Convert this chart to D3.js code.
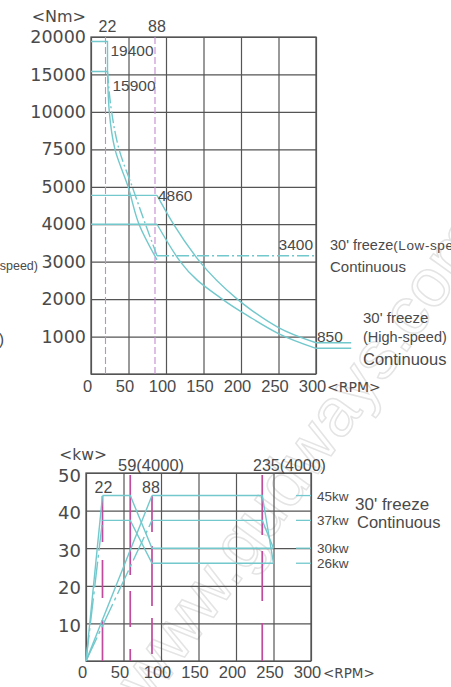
<!DOCTYPE html>
<html>
<head>
<meta charset="utf-8">
<script src="https://cdn.jsdelivr.net/npm/d3@7"></script>
<style>
  body { margin: 0; background: #fff; }
  svg { display: block; }
</style>
</head>
<body>
<svg id="chart" width="451" height="687"></svg>
<script>
// ---- data ----
const rpmTicks = [0, 50, 100, 150, 200, 250, 300];
const torqueTicks = [0, 1000, 2000, 3000, 4000, 5000, 7500, 10000, 15000, 20000];
const powerTicks = [0, 10, 20, 30, 40, 50];

// torque chart (Nm vs rpm)
const lowBox = [[0, 19400], [22, 19400], [22, 15400], [0, 15400]];
const lowPeak = [[22, 15400], [24.4, 10000], [32, 7500], [49.5, 5000], [64, 4000], [88, 3050]];
const lowCont = [[22, 15400], [27.5, 10000], [37.4, 7500], [55, 5000], [72.6, 4000], [88, 3160]];
const lowContFlat = [[88, 3160], [300, 3160]];
const highPeakFlat = [[0, 4770], [88, 4770]];
const highContFlat = [[0, 4000], [88, 4000]];
const highPeak = [[88, 4770], [110, 4000], [145, 3000], [195, 2000], [213, 1720], [250, 1240], [300, 835]];
const highCont = [[88, 4000], [119, 3000], [175, 2000], [213, 1507], [250, 1080], [300, 686]];
const highTails = [[[300, 835], [347, 835]], [[300, 686], [347, 686]]];
const torqueSpeeds = [22, 88];

// power chart (kW vs rpm)
const pLowPeak = [[22, 44], [59, 44], [88, 30], [250, 30]];
const pLowCont = [[22, 37.4], [59, 37.4], [88, 26], [250, 26]];
const pHighPeak = [[88, 44], [235, 44], [250, 26]];
const pHighCont = [[88, 37.4], [235, 37.4], [250, 30]];
const pRisePeak = [[[0, 0], [22, 44]], [[0, 0], [88, 44]]];
const pRiseCont = [[[0, 0], [22, 37.4]], [[0, 0], [88, 37.4]]];
const powerSpeeds = [22, 59, 88, 235];
const powerLevels = [44, 37.4, 30, 26];
const powerLevelLabels = ["45kw", "37kw", "30kw", "26kw"];

// ---- style ----
const cyan = "#72c8cc";
const gridCol = "#555";
const textCol = "#4a4a4a";
const numFont = "Liberation Sans, Arial, sans-serif";
const tickFont = "DejaVu Sans, sans-serif";

const svg = d3.select("#chart");

// faint watermark
svg.append("text")
  .attr("transform", "translate(150,705) rotate(-54)")
  .attr("font-family", numFont)
  .attr("font-size", 68)
  .attr("fill", "none")
  .attr("stroke", "#e4e4e4")
  .attr("stroke-width", 1.5)
  .text("www.gudways.com");

// =============== torque chart ===============
const x1 = d3.scaleLinear().domain([0, 300]).range([91, 316]);
const t1 = 37, b1 = 374;
const y1 = d3.scaleLinear()
  .domain(torqueTicks)
  .range(torqueTicks.map((d, i) => b1 - i * (b1 - t1) / (torqueTicks.length - 1)));

const g1 = svg.append("g");

// grid via axes
const yAx1 = g1.append("g").attr("transform", `translate(${x1(0)},0)`)
  .call(d3.axisLeft(y1).tickValues(torqueTicks).tickSize(-(x1(300) - x1(0))).tickPadding(5)
    .tickFormat(d => d === 0 ? "" : d));
const xAx1 = g1.append("g").attr("transform", `translate(0,${b1})`)
  .call(d3.axisBottom(x1).tickValues(rpmTicks).tickSize(-(b1 - t1)).tickPadding(6));

[yAx1, xAx1].forEach(a => {
  a.select(".domain").remove();
  a.selectAll(".tick line").attr("stroke", gridCol).attr("stroke-width", 1.2);
});
yAx1.selectAll("text").attr("font-family", tickFont).attr("font-size", 17.5).attr("fill", textCol);
xAx1.selectAll("text").attr("font-family", numFont).attr("font-size", 16.5).attr("fill", textCol).attr("dx", -4);

g1.append("rect")
  .attr("x", x1(0)).attr("y", t1)
  .attr("width", x1(300) - x1(0)).attr("height", b1 - t1)
  .attr("fill", "none").attr("stroke", gridCol).attr("stroke-width", 1.3);

// speed markers
g1.selectAll(".spd").data(torqueSpeeds).enter().append("line")
  .attr("x1", d => x1(d) - 2).attr("x2", d => x1(d) - 2)
  .attr("y1", t1).attr("y2", b1)
  .attr("stroke", "#c58ad0").attr("stroke-width", 1.1).attr("stroke-dasharray", "7,3");
g1.selectAll(".spdl").data(torqueSpeeds).enter().append("text")
  .attr("x", d => x1(d)).attr("y", 32)
  .attr("text-anchor", "middle")
  .attr("font-family", numFont).attr("font-size", 16).attr("fill", textCol)
  .text(d => d);

const straight1 = d3.line().x(d => x1(d[0])).y(d => y1(d[1]));
const smooth1 = d3.line().x(d => x1(d[0])).y(d => y1(d[1])).curve(d3.curveMonotoneY);
const smoothX1 = d3.line().x(d => x1(d[0])).y(d => y1(d[1])).curve(d3.curveMonotoneX);

function cyanPath(g, d, gen, dash) {
  g.append("path").attr("d", gen(d))
    .attr("fill", "none").attr("stroke", cyan).attr("stroke-width", 1.4)
    .attr("stroke-dasharray", dash || null);
}

cyanPath(g1, lowBox, straight1);
cyanPath(g1, lowPeak, smooth1);
cyanPath(g1, lowCont, smooth1, "12,3,2,3");
cyanPath(g1, lowContFlat, straight1, "12,3,2,3");
cyanPath(g1, highPeakFlat, straight1);
cyanPath(g1, highContFlat, straight1);
cyanPath(g1, highPeak, smoothX1);
cyanPath(g1, highCont, smoothX1);
highTails.forEach(t => cyanPath(g1, t, straight1));

// value notes
const note = (g, txt, x, y, anchor, size) => g.append("text")
  .attr("x", x).attr("y", y).attr("text-anchor", anchor || "start")
  .attr("font-family", numFont).attr("font-size", size || 15.5).attr("fill", textCol)
  .text(txt);

note(g1, "19400", x1(22) + 3, y1(19400) + 15);
note(g1, "15900", x1(22) + 5, y1(15400) + 20);
note(g1, "4860", x1(88) + 1, y1(4770) + 6);
note(g1, "3400", x1(300) - 3, y1(3160) - 6, "end");
note(g1, "850", x1(300) + 1, y1(835) - 1);

// axis unit labels
g1.append("text").attr("x", 86).attr("y", 22).attr("text-anchor", "end")
  .attr("font-family", tickFont).attr("font-size", 16).attr("fill", textCol).text("<Nm>");
g1.append("text").attr("x", x1(300) + 11).attr("y", 392)
  .attr("font-family", tickFont).attr("font-size", 14).attr("fill", textCol).text("<RPM>");

// legends
const lowLbl = g1.append("text").attr("x", 330).attr("y", 250)
  .attr("font-family", numFont).attr("font-size", 14.5).attr("fill", textCol);
lowLbl.append("tspan").text("30' freeze");
lowLbl.append("tspan").attr("font-size", 13.5).attr("letter-spacing", 0.6).text("(Low-speed)");
note(g1, "Continuous", 330, 272, "start", 15);

note(g1, "30' freeze", 363, 323, "start", 15);
note(g1, "(High-speed)", 363, 342, "start", 14.5);
note(g1, "Continuous", 363, 365, "start", 16.5);

// clipped side text
note(g1, "(High-speed)", 38, 270, "end", 12.5);
note(g1, ")", 4, 345, "end", 16);

// =============== power chart ===============
const x2 = d3.scaleLinear().domain([0, 300]).range([86, 311]);
const y2 = d3.scaleLinear().domain([0, 50]).range([661, 473]);

const g2 = svg.append("g");
const yAx2 = g2.append("g").attr("transform", `translate(${x2(0)},0)`)
  .call(d3.axisLeft(y2).tickValues(powerTicks).tickSize(-(x2(300) - x2(0))).tickPadding(5)
    .tickFormat(d => d === 0 ? "" : d));
const xAx2 = g2.append("g").attr("transform", `translate(0,${y2(0)})`)
  .call(d3.axisBottom(x2).tickValues(rpmTicks).tickSize(-(y2(0) - y2(50))).tickPadding(5));
[yAx2, xAx2].forEach(a => {
  a.select(".domain").remove();
  a.selectAll(".tick line").attr("stroke", gridCol).attr("stroke-width", 1.2);
});
yAx2.selectAll("text").attr("font-family", tickFont).attr("font-size", 18).attr("fill", textCol).attr("dy", "0.45em");
xAx2.selectAll("text").attr("font-family", numFont).attr("font-size", 16.5).attr("fill", textCol).attr("dx", -4);

g2.append("rect")
  .attr("x", x2(0)).attr("y", y2(50))
  .attr("width", x2(300) - x2(0)).attr("height", y2(0) - y2(50))
  .attr("fill", "none").attr("stroke", gridCol).attr("stroke-width", 1.3);

// speed markers
g2.selectAll(".spd").data(powerSpeeds).enter().append("line")
  .attr("x1", d => x2(d)).attr("x2", d => x2(d))
  .attr("y1", (d, i) => i % 2 === 0 ? 496 : 475).attr("y2", y2(0))
  .attr("stroke", "#c04a9c").attr("stroke-width", 1.7)
  .attr("stroke-dasharray", (d, i) => ["46,18,38,22", "100,16,36,22", "36,14,60,12", "60,16,50,22"][i]);

const straight2 = d3.line().x(d => x2(d[0])).y(d => y2(d[1]));
cyanPath(g2, pLowPeak, straight2);
cyanPath(g2, pLowCont, straight2);
cyanPath(g2, pHighPeak, straight2);
cyanPath(g2, pHighCont, straight2);
pRisePeak.forEach(r => cyanPath(g2, r, straight2));
pRiseCont.forEach(r => cyanPath(g2, r, straight2, "26,4,3,4"));

// right-side level marks
g2.selectAll(".lvl").data(powerLevels).enter().append("line")
  .attr("x1", x2(280)).attr("x2", x2(300))
  .attr("y1", d => y2(d)).attr("y2", d => y2(d))
  .attr("stroke", cyan).attr("stroke-width", 1.3);
g2.selectAll(".lvll").data(powerLevels).enter().append("text")
  .attr("x", x2(300) + 6).attr("y", d => y2(d) + 5)
  .attr("font-family", numFont).attr("font-size", 13.5).attr("fill", textCol)
  .text((d, i) => powerLevelLabels[i]);

note(g2, "22", x2(22) + 1, 493, "middle", 16);
note(g2, "88", x2(88) - 1, 493, "middle", 16);
note(g2, "59(4000)", 118, 471, "start", 16.5);
note(g2, "235(4000)", 253, 471, "start", 16);

note(g2, "30' freeze", 355, 510, "start", 17);
note(g2, "Continuous", 357, 528, "start", 16.5);

g2.append("text").attr("x", 107).attr("y", 460).attr("text-anchor", "end")
  .attr("font-family", tickFont).attr("font-size", 15.5).attr("fill", textCol).text("<kw>");
g2.append("text").attr("x", x2(300) + 12).attr("y", 678)
  .attr("font-family", tickFont).attr("font-size", 13.5).attr("fill", textCol).text("<RPM>");
</script>
</body>
</html>
